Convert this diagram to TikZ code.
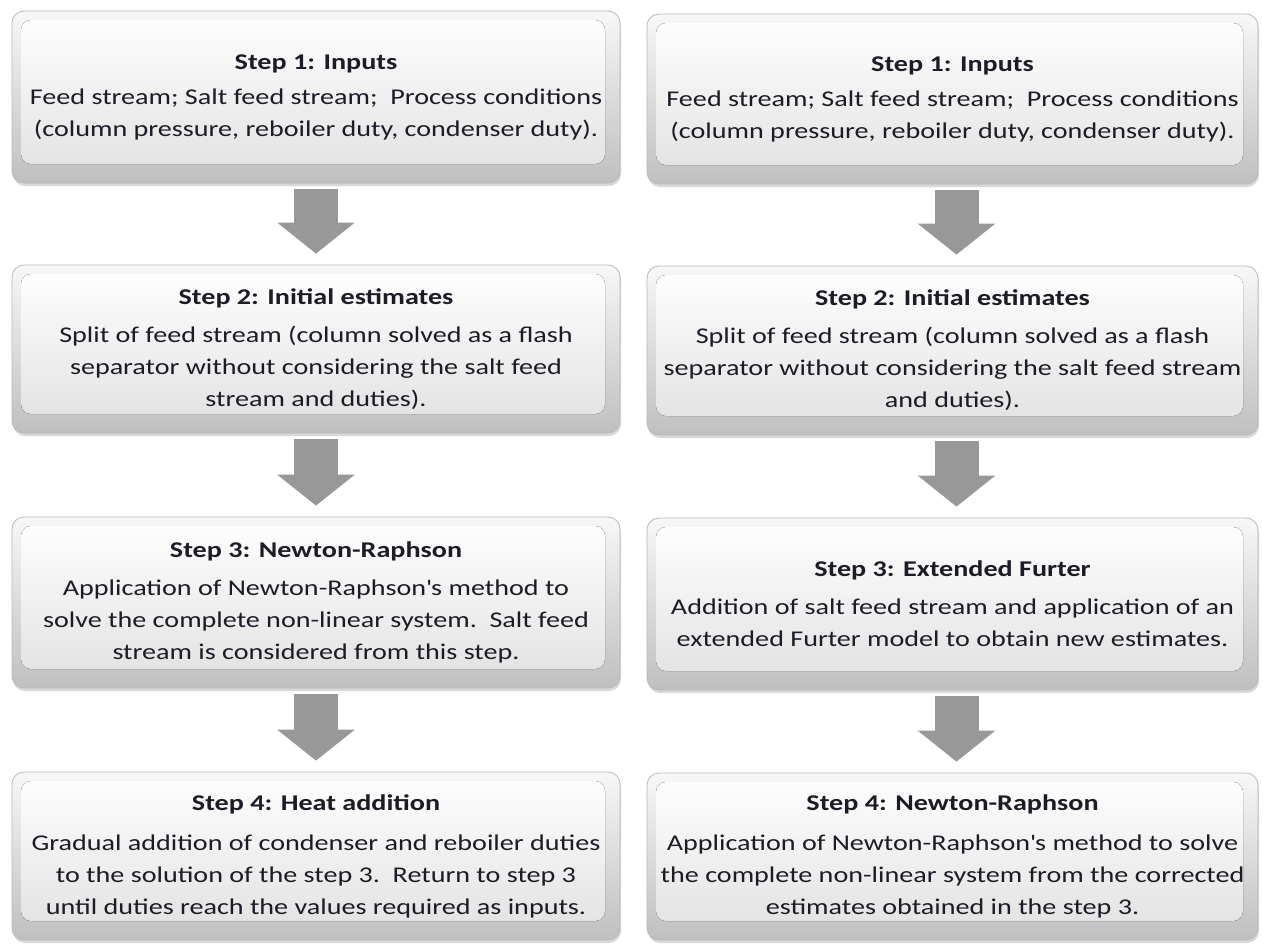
\documentclass[tikz,border=0pt]{standalone}
\usepackage{fontspec}
\setmainfont{Carlito}[FakeStretch=1.25]
\usetikzlibrary{arrows.meta,shadows,calc}
\definecolor{arrowgray}{RGB}{152,152,152}
\definecolor{txt}{RGB}{28,28,38}
\tikzset{
  stepbox/.style={rounded corners=12pt, draw=gray!55, line width=0.8pt,
    top color=gray!6, bottom color=gray!50,
    drop shadow={shadow xshift=1pt, shadow yshift=-3pt, opacity=0.3, fill=gray},
    path picture={\fill[top color=white, bottom color=gray!24, rounded corners=10pt]
      ([xshift=9pt,yshift=-9pt]path picture bounding box.north west) rectangle
      ([xshift=-15pt,yshift=19pt]path picture bounding box.south east);},
    align=center, font=\fontsize{22.5}{32}\selectfont, text=txt, inner sep=0pt},
  flowarrow/.style={draw=arrowgray, line width=44pt,
    -{Triangle[width=76pt,length=31pt]}, shorten <=6pt, shorten >=11pt}
}
\begin{document}
\begin{tikzpicture}[x=1pt,y=-1pt]
\useasboundingbox[fill=white] (0,0) rectangle (1263,943);
% left column
\node[stepbox, minimum width=608pt, minimum height=172pt] (L1) at (316,97)
  {\textbf{Step 1: Inputs}\\[3pt]
   Feed stream; Salt feed stream;\ \ Process conditions\\
   (column pressure, reboiler duty, condenser duty).};
\node[stepbox, minimum width=608pt, minimum height=168pt] (L2) at (316,349)
  {\textbf{Step 2: Initial estimates}\\[6pt]
   Split of feed stream (column solved as a flash\\
   separator without considering the salt feed\\
   stream and duties).};
\node[stepbox, minimum width=608pt, minimum height=171pt] (L3) at (316,602.5)
  {\textbf{Step 3: Newton-Raphson}\\[6pt]
   Application of Newton-Raphson\textquotesingle s\ method to\\
   solve the complete non-linear system.\ \ Salt feed\\
   stream is considered from this step.};
\node[stepbox, minimum width=608pt, minimum height=168pt] (L4) at (316,856)
  {\textbf{Step 4: Heat addition}\\[8pt]
   Gradual addition of condenser and reboiler duties\\
   to the solution of the step 3.\ \ Return to step 3\\
   until duties reach the values required as inputs.};
% right column
\node[stepbox, minimum width=611pt, minimum height=170pt] (R1) at (952.5,99)
  {\textbf{Step 1: Inputs}\\[3pt]
   Feed stream; Salt feed stream;\ \ Process conditions\\
   (column pressure, reboiler duty, condenser duty).};
\node[stepbox, minimum width=611pt, minimum height=169pt] (R2) at (952.5,350.5)
  {\textbf{Step 2: Initial estimates}\\[6pt]
   Split of feed stream (column solved as a flash\\
   separator without considering the salt feed stream\\
   and duties).};
\node[stepbox, minimum width=611pt, minimum height=172pt] (R3) at (952.5,604)
  {\textbf{Step 3: Extended Furter}\\[6pt]
   Addition of salt feed stream and application of an\\
   extended Furter model to obtain new estimates.};
\node[stepbox, minimum width=611pt, minimum height=167pt] (R4) at (952.5,856.5)
  {\textbf{Step 4: Newton-Raphson}\\[8pt]
   Application of Newton-Raphson\textquotesingle s method to solve\\
   the complete non-linear system from the corrected\\
   estimates obtained in the step 3.};
% arrows
\draw[flowarrow] (L1.south) -- (L2.north);
\draw[flowarrow] (L2.south) -- (L3.north);
\draw[flowarrow] (L3.south) -- (L4.north);
\draw[flowarrow] ([xshift=4pt]R1.south) -- ([xshift=4pt]R2.north);
\draw[flowarrow] ([xshift=4pt]R2.south) -- ([xshift=4pt]R3.north);
\draw[flowarrow] ([xshift=4pt]R3.south) -- ([xshift=4pt]R4.north);
\end{tikzpicture}
\end{document}
